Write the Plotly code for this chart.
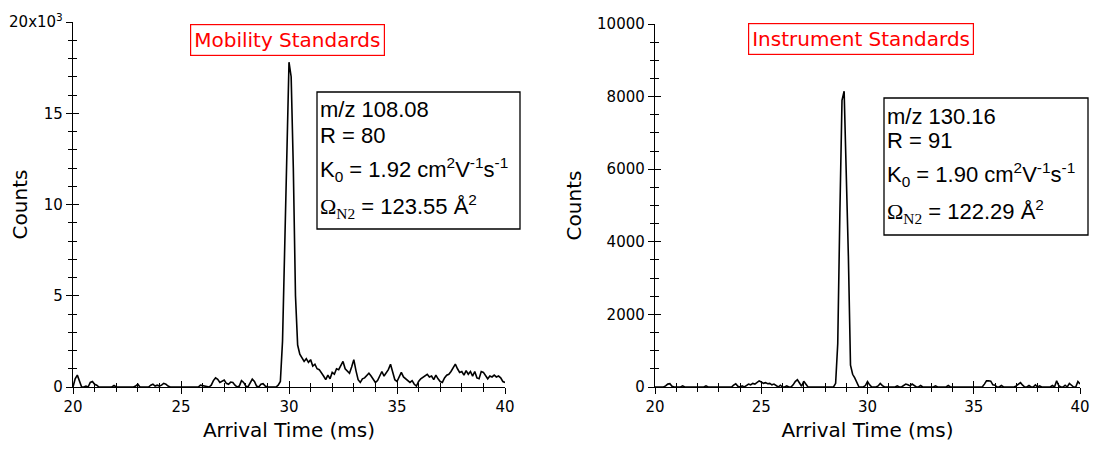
import plotly.graph_objects as go

# ---------------- data ----------------
time_ms = [round(20 + 0.1 * i, 1) for i in range(201)]

mobility_counts = [
    # 20.0 - 21.0
    0, 450, 650, 300, 0, 0, 50, 0, 250, 300, 150,
    # 21.1 - 22.0
    100, 0, 0, 0, 0, 0, 0, 0, 80, 0,
    # 22.1 - 23.0
    0, 0, 0, 0, 0, 0, 0, 0, 50, 150,
    # 23.1 - 24.0
    0, 0, 0, 0, 0, 100, 150, 50, 100, 50,
    # 24.1 - 25.0
    100, 200, 150, 50, 0, 0, 0, 0, 0, 0,
    # 25.1 - 26.0
    0, 0, 0, 0, 0, 0, 0, 0, 100, 80,
    # 26.1 - 27.0
    50, 0, 0, 100, 350, 500, 420, 250, 330, 380,
    # 27.1 - 28.0
    200, 150, 270, 250, 100, 0, 50, 350, 250, 50,
    # 28.1 - 29.0
    0, 250, 430, 300, 50, 0, 150, 180, 50, 0,
    # 29.1 - 30.0
    0, 0, 0, 0, 100, 300, 2500, 7500, 13500, 17800,
    # 30.1 - 31.0
    17000, 12000, 5000, 2300, 1800, 1600, 1400, 1550, 1350, 1500,
    # 31.1 - 32.0
    1150, 1250, 1000, 950, 800, 600, 400, 650, 450, 800,
    # 32.1 - 33.0
    700, 1000, 950, 1150, 1400, 1000, 900, 750, 1100, 1500,
    # 33.1 - 34.0
    900, 400, 250, 450, 500, 600, 750, 600, 450, 250,
    # 34.1 - 35.0
    350, 600, 850, 600, 800, 950, 1250, 800, 400, 300,
    # 35.1 - 36.0
    550, 800, 550, 450, 350, 250, 350, 150, 50, 300,
    # 36.1 - 37.0
    450, 550, 600, 700, 550, 600, 400, 650, 450, 300,
    # 37.1 - 38.0
    250, 500, 650, 700, 850, 1050, 1250, 1000, 800, 850,
    # 38.1 - 39.0
    650, 900, 700, 850, 600, 850, 500, 450, 850, 800,
    # 39.1 - 40.0
    650, 450, 600, 550, 650, 550, 600, 500, 300, 250,
]

instrument_counts = [
    # 20.0 - 21.0
    0, 0, 0, 0, 0, 30, 80, 90, 20, 0, 0,
    # 21.1 - 22.0
    0, 0, 30, 0, 0, 0, 0, 0, 0, 0,
    # 22.1 - 23.0
    0, 0, 0, 30, 0, 0, 0, 0, 0, 0,
    # 23.1 - 24.0
    0, 0, 0, 0, 0, 0, 50, 90, 20, 0,
    # 24.1 - 25.0
    30, 0, 40, 80, 60, 100, 80, 120, 170, 140,
    # 25.1 - 26.0
    100, 120, 90, 100, 60, 80, 40, 0, 50, 0,
    # 26.1 - 27.0
    0, 30, 0, 0, 60, 150, 200, 120, 20, 160,
    # 27.1 - 28.0
    60, 0, 0, 0, 0, 0, 0, 0, 0, 0,
    # 28.1 - 29.0
    0, 0, 0, 0, 100, 1200, 4800, 7900, 8150, 6000,
    # 29.1 - 30.0
    3600, 600, 350, 250, 100, 0, 0, 0, 40, 150,
    # 30.1 - 31.0
    60, 0, 0, 0, 30, 100, 40, 0, 0, 0,
    # 31.1 - 32.0
    0, 0, 0, 30, 0, 0, 50, 80, 60, 30,
    # 32.1 - 33.0
    80, 50, 0, 0, 40, 0, 0, 0, 0, 0,
    # 33.1 - 34.0
    0, 30, 0, 0, 0, 0, 0, 40, 0, 0,
    # 34.1 - 35.0
    0, 0, 0, 0, 0, 0, 0, 0, 0, 0,
    # 35.1 - 36.0
    0, 0, 0, 0, 80, 170, 170, 160, 60, 50,
    # 36.1 - 37.0
    0, 0, 40, 0, 0, 0, 0, 0, 0, 30,
    # 37.1 - 38.0
    80, 120, 50, 0, 0, 40, 0, 0, 60, 0,
    # 38.1 - 39.0
    30, 0, 0, 0, 0, 0, 40, 0, 170, 40,
    # 39.1 - 40.0
    0, 0, 50, 0, 100, 60, 0, 0, 150, 80,
]

left_yticks = [0, 5000, 10000, 15000, 20000]
left_ytext = ["0", "5", "10", "15", "20x10<sup>3</sup>"]
right_yticks = [0, 2000, 4000, 6000, 8000, 10000]
right_ytext = ["0", "2000", "4000", "6000", "8000", "10000"]
x_ticks = [20, 25, 30, 35, 40]

titles = ["Mobility Standards", "Instrument Standards"]
info_left = ["m/z 108.08", "R = 80", "1.92", "123.55"]
info_right = ["m/z 130.16", "R = 91", "1.90", "122.29"]

# ---------------- figure ----------------
OFF = 8                      # page body margin in the browser
W, H = 1082, 434             # fits the 1098x450 window without scrollbars
TICKFONT = dict(family="DejaVu Sans", size=15, color="black")
TITLEFONT = dict(family="DejaVu Sans", size=20, color="black")

def px(x):
    return (x - OFF) / W

def py(y):
    return 1 - (y - OFF) / H

fig = go.Figure()
fig.add_trace(go.Scatter(x=time_ms, y=mobility_counts, mode="lines",
                         line=dict(color="black", width=1.6), xaxis="x", yaxis="y",
                         showlegend=False))
fig.add_trace(go.Scatter(x=time_ms, y=instrument_counts, mode="lines",
                         line=dict(color="black", width=1.6), xaxis="x2", yaxis="y2",
                         showlegend=False))
# invisible traces to activate overlay axes (inside ticks)
fig.add_trace(go.Scatter(x=[time_ms[0]], y=[0], mode="none", xaxis="x3", yaxis="y3",
                         showlegend=False, hoverinfo="skip"))
fig.add_trace(go.Scatter(x=[time_ms[0]], y=[0], mode="none", xaxis="x4", yaxis="y4",
                         showlegend=False, hoverinfo="skip"))

dom_l = [px(73), px(505)]
dom_r = [px(655), px(1080)]
dom_yl = [py(387), py(22)]
dom_yr = [py(387), py(24)]

def xax(domain, anchor, ticks, showlabels=True, title=None, overlay=None):
    d = dict(domain=domain, anchor=anchor, range=[20, 40], tickvals=x_ticks,
             ticks=ticks, ticklen=6, tickwidth=1.3, tickcolor="black",
             showline=True, linecolor="black", linewidth=1.4,
             showgrid=False, zeroline=False, tickfont=TICKFONT,
             showticklabels=showlabels, automargin=False,
             minor=dict(dtick=1, ticks=ticks, ticklen=4, tickwidth=1.2, tickcolor="black", showgrid=False))
    if title:
        d["title"] = dict(text=title, font=TITLEFONT, standoff=14)
    if overlay:
        d["overlaying"] = overlay
    return d

def yax(domain, anchor, rng, tv, tt, ticks, dminor, showlabels=True, title=None, overlay=None):
    d = dict(domain=domain, anchor=anchor, range=rng, tickvals=tv, ticktext=tt,
             ticks=ticks, ticklen=6, tickwidth=1.3, tickcolor="black",
             showline=True, linecolor="black", linewidth=1.4,
             showgrid=False, zeroline=False, tickfont=TICKFONT,
             showticklabels=showlabels, automargin=False,
             minor=dict(dtick=dminor, tick0=0, ticks=ticks, ticklen=4, tickwidth=1.2, tickcolor="black", showgrid=False))
    if title:
        d["title"] = dict(text=title, font=TITLEFONT, standoff=10)
    if overlay:
        d["overlaying"] = overlay
    return d

fig.update_layout(
    width=W, height=H,
    margin=dict(l=0, r=0, t=0, b=0, autoexpand=False),
    paper_bgcolor="white", plot_bgcolor="white",
    xaxis=xax(dom_l, "y", "outside", title="Arrival Time (ms)"),
    yaxis=yax(dom_yl, "x", [0, 20000], left_yticks, left_ytext, "outside", 1000, title="Counts"),
    xaxis2=xax(dom_r, "y2", "outside", title="Arrival Time (ms)"),
    yaxis2=yax(dom_yr, "x2", [0, 10000], right_yticks, right_ytext, "outside", 500, title="Counts"),
    xaxis3=xax(dom_l, "y", "inside", showlabels=False, overlay="x"),
    yaxis3=yax(dom_yl, "x", [0, 20000], left_yticks, left_ytext, "inside", 1000, showlabels=False, overlay="y"),
    xaxis4=xax(dom_r, "y2", "inside", showlabels=False, overlay="x2"),
    yaxis4=yax(dom_yr, "x2", [0, 10000], right_yticks, right_ytext, "inside", 500, showlabels=False, overlay="y2"),
)

def info_lines(v):
    return [v[0], v[1],
            f"K<sub>0</sub> = {v[2]} cm<sup>2</sup>V<sup>-1</sup>s<sup>-1</sup>",
            f"<span style='font-family:Liberation Serif'>Ω<sub>N2</sub></span> = {v[3]} Å<sup>2</sup>"]

# title boxes
for cx, cy, txt in [(287, 40, titles[0]), (861, 39, titles[1])]:
    fig.add_annotation(xref="paper", yref="paper", x=px(cx), y=py(cy),
                       xanchor="center", yanchor="middle", showarrow=False,
                       text=txt, font=dict(family="DejaVu Sans", size=20, color="red"),
                       bordercolor="red", borderwidth=1.2, borderpad=3, bgcolor="white")

# info boxes: frame + one text per line
line_offsets = [18, 43, 77, 114]
for x0, y0, x1, y1, vals in [(317, 92, 520, 229, info_left), (884, 98, 1088, 235, info_right)]:
    fig.add_shape(type="rect", xref="paper", yref="paper",
                  x0=px(x0), x1=px(x1), y0=py(y1), y1=py(y0),
                  line=dict(color="black", width=1.3), fillcolor="white", layer="above")
    for dy, txt in zip(line_offsets, info_lines(vals)):
        fig.add_annotation(xref="paper", yref="paper", x=px(x0 + 1), y=py(y0 + dy),
                           xanchor="left", yanchor="middle", showarrow=False,
                           text=txt, font=dict(family="Liberation Sans", size=22, color="black"))

fig.write_html("out.html")
